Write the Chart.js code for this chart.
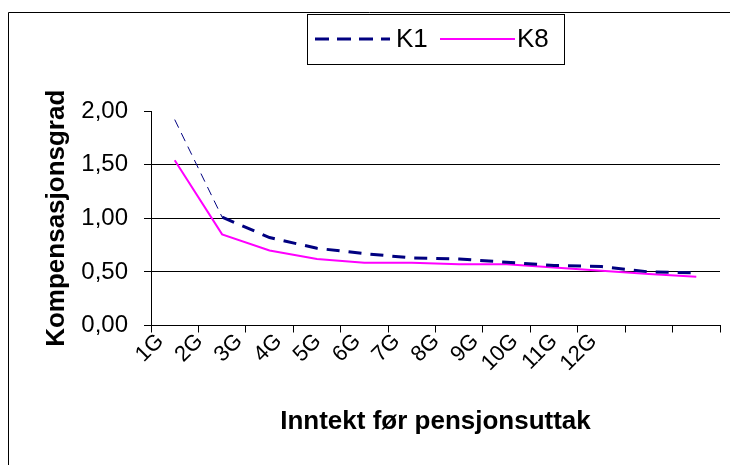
<!DOCTYPE html>
<html>
<head>
<meta charset="utf-8">
<script src="https://cdn.jsdelivr.net/npm/chart.js@4/dist/chart.umd.min.js"></script>
<style>
  html, body { margin: 0; padding: 0; background: #fff; }
  #wrap { position: relative; width: 730px; height: 465px; overflow: hidden; }
  canvas { display: block; }
</style>
</head>
<body>
<div id="wrap"><canvas id="c" width="730" height="465"></canvas></div>
<script>
// Income levels in multiples of G
const categories = ['1G', '2G', '3G', '4G', '5G', '6G', '7G', '8G', '9G', '10G', '11G', '12G'];
// Compensation rate per income level
const k1Values = [1.92, 1.01, 0.82, 0.72, 0.67, 0.63, 0.62, 0.59, 0.56, 0.55, 0.50, 0.49];
const k8Values = [1.54, 0.85, 0.70, 0.62, 0.585, 0.585, 0.57, 0.57, 0.54, 0.51, 0.48, 0.455];
const seriesNames = ['K1', 'K8'];
const yTickValues = [0, 0.5, 1, 1.5, 2];

const FONT = "'Liberation Sans', Arial, sans-serif";

// Outer frame (left and top edges) of the chart object
const framePlugin = {
  id: 'frame',
  beforeDraw(chart) {
    const ctx = chart.ctx;
    ctx.save();
    ctx.strokeStyle = '#000';
    ctx.lineWidth = 1;
    ctx.beginPath();
    ctx.moveTo(8.5, chart.height);
    ctx.lineTo(8.5, 12.5);
    ctx.lineTo(chart.width, 12.5);
    ctx.stroke();
    ctx.restore();
  }
};

// Boxed legend with line samples, placed above the plot
const boxLegendPlugin = {
  id: 'boxLegend',
  afterDraw(chart, args, opts) {
    const ctx = chart.ctx;
    const b = opts.box;
    ctx.save();
    ctx.fillStyle = '#fff';
    ctx.fillRect(b.x, b.y, b.w, b.h);
    ctx.strokeStyle = '#000';
    ctx.lineWidth = 1;
    ctx.strokeRect(b.x + 0.5, b.y + 0.5, b.w, b.h);
    const cy = b.y + b.h / 2;
    ctx.font = opts.font;
    ctx.textBaseline = 'middle';
    ctx.textAlign = 'left';
    chart.data.datasets.forEach((ds, i) => {
      const it = opts.items[i];
      ctx.beginPath();
      ctx.setLineDash(it.dash);
      ctx.lineWidth = ds.borderWidth;
      ctx.strokeStyle = ds.borderColor;
      ctx.moveTo(it.x0, cy);
      ctx.lineTo(it.x1, cy);
      ctx.stroke();
      ctx.setLineDash([]);
      ctx.fillStyle = '#000';
      ctx.fillText(ds.label, it.tx, cy + 1);
    });
    ctx.restore();
  }
};

const PLOT_LEFT = 151;
const TICK_LEN = 7;
const LABEL_AXIS_SPACE = 465 - 325.5 - TICK_LEN;

new Chart(document.getElementById('c'), {
  type: 'line',
  data: {
    labels: categories,
    datasets: [
      {
        label: seriesNames[0],
        data: k1Values,
        borderColor: '#000080',
        borderWidth: 3,
        borderDash: [13, 9],
        pointRadius: 0,
        tension: 0,
        segment: {
          borderWidth: ctx => ctx.p0DataIndex === 0 ? 1 : 3,
          borderDash: ctx => ctx.p0DataIndex === 0 ? [9, 6] : [13, 9]
        }
      },
      {
        label: seriesNames[1],
        data: k8Values,
        borderColor: '#FF00FF',
        borderWidth: 2,
        pointRadius: 0,
        tension: 0
      }
    ]
  },
  options: {
    responsive: false,
    animation: false,
    events: [],
    layout: { padding: { top: 111, right: 10, left: 0, bottom: 0 } },
    plugins: {
      legend: { display: false },
      tooltip: { enabled: false },
      boxLegend: {
        box: { x: 307, y: 14, w: 257, h: 50 },
        font: "26px " + FONT,
        items: [
          { x0: 315, x1: 390, tx: 396, dash: [14, 8] },
          { x0: 440, x1: 515, tx: 517, dash: [] }
        ]
      }
    },
    scales: {
      // Category axis: carries the data and the tick marks between categories
      x: {
        type: 'category',
        position: 'bottom',
        weight: 0,
        offset: true,
        afterFit: s => { s.height = TICK_LEN; },
        grid: {
          offset: true,
          drawOnChartArea: false,
          drawTicks: true,
          tickLength: TICK_LEN,
          tickColor: '#000',
          color: '#000'
        },
        border: { display: true, color: '#000', width: 1 },
        ticks: { display: false, autoSkip: false }
      },
      // Label axis: category names set on a tighter pitch, plus the axis title
      xLabels: {
        type: 'linear',
        position: 'bottom',
        weight: 1,
        min: 0.764,
        max: 15.21,
        afterFit: s => { s.height = LABEL_AXIS_SPACE; },
        afterBuildTicks: s => { s.ticks = categories.map((c, i) => ({ value: i + 1 })); },
        grid: { display: false, drawTicks: false },
        border: { display: false },
        ticks: {
          autoSkip: false,
          minRotation: 45,
          maxRotation: 45,
          padding: -4,
          color: '#000',
          font: { family: FONT, size: 22 },
          callback: v => categories[Math.round(v) - 1]
        },
        title: {
          display: true,
          text: 'Inntekt før pensjonsuttak',
          color: '#000',
          font: { family: FONT, size: 26, weight: 'bold' },
          padding: { top: 0, bottom: 28 }
        }
      },
      y: {
        min: 0,
        max: 2,
        afterFit: s => { s.width = PLOT_LEFT; },
        afterBuildTicks: s => { s.ticks = yTickValues.map(v => ({ value: v })); },
        grid: {
          drawTicks: true,
          tickLength: TICK_LEN,
          tickColor: '#000',
          color: ctx => (ctx.tick && ctx.tick.value === 2) ? 'rgba(0,0,0,0)' : '#000',
          lineWidth: 1
        },
        border: { display: true, color: '#000', width: 1 },
        ticks: {
          padding: 16,
          color: '#000',
          font: { family: FONT, size: 24 },
          callback: v => Number(v).toFixed(2).replace('.', ',')
        },
        title: {
          display: true,
          text: 'Kompensasjonsgrad',
          color: '#000',
          font: { family: FONT, size: 26, weight: 'bold' },
          padding: { top: 41, bottom: 0 }
        }
      }
    }
  },
  plugins: [framePlugin, boxLegendPlugin]
});
</script>
</body>
</html>
